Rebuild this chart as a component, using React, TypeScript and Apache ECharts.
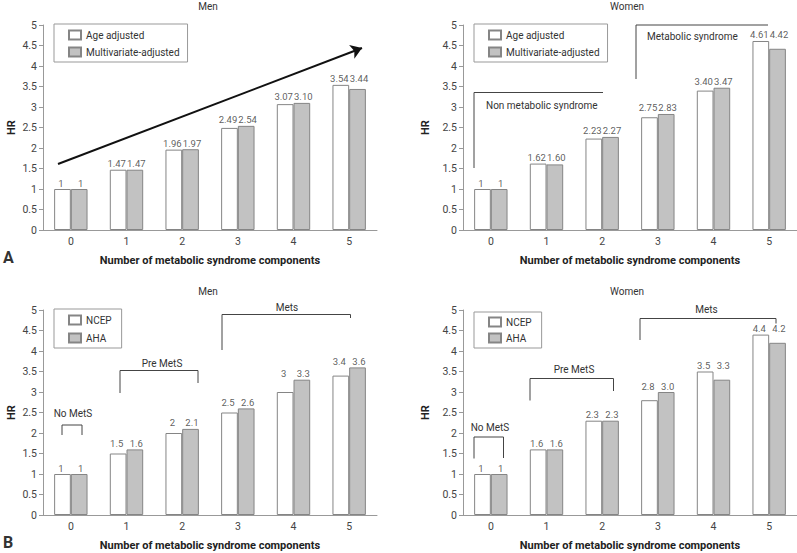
import React, { useEffect, useRef } from "react";
import * as echarts from "echarts";

const categories = ["0", "1", "2", "3", "4", "5"];

// Panel A — Men
const aMenAge = [1, 1.47, 1.96, 2.49, 3.07, 3.54];
const aMenMulti = [1, 1.47, 1.97, 2.54, 3.1, 3.44];
const aMenAgeLabels = ["1", "1.47", "1.96", "2.49", "3.07", "3.54"];
const aMenMultiLabels = ["1", "1.47", "1.97", "2.54", "3.10", "3.44"];

// Panel A — Women
const aWomenAge = [1, 1.62, 2.23, 2.75, 3.4, 4.61];
const aWomenMulti = [1, 1.6, 2.27, 2.83, 3.47, 4.42];
const aWomenAgeLabels = ["1", "1.62", "2.23", "2.75", "3.40", "4.61"];
const aWomenMultiLabels = ["1", "1.60", "2.27", "2.83", "3.47", "4.42"];

// Panel B — Men
const bMenNcep = [1, 1.5, 2, 2.5, 3, 3.4];
const bMenAha = [1, 1.6, 2.1, 2.6, 3.3, 3.6];
const bMenNcepLabels = ["1", "1.5", "2", "2.5", "3", "3.4"];
const bMenAhaLabels = ["1", "1.6", "2.1", "2.6", "3.3", "3.6"];

// Panel B — Women
const bWomenNcep = [1, 1.6, 2.3, 2.8, 3.5, 4.4];
const bWomenAha = [1, 1.6, 2.3, 3.0, 3.3, 4.2];
const bWomenNcepLabels = ["1", "1.6", "2.3", "2.8", "3.5", "4.4"];
const bWomenAhaLabels = ["1", "1.6", "2.3", "3.0", "3.3", "4.2"];

const legendA = ["Age adjusted", "Multivariate-adjusted"];
const legendB = ["NCEP", "AHA"];
const xName = "Number of metabolic syndrome components";
const yName = "HR";

const FONT = "Roboto, sans-serif";
const TXT = "#333";
const AX = "#999";
const FS = 10;

const grids = [
  { left: 43, top: 25, width: 334, height: 205 },
  { left: 463, top: 25, width: 334, height: 205 },
  { left: 43, top: 310, width: 334, height: 205 },
  { left: 463, top: 310, width: 334, height: 205 },
];

function makeAxes(i: number, yGap: number) {
  const x = {
    type: "category",
    gridIndex: i,
    data: categories,
    axisLine: { lineStyle: { color: AX, width: 1 } },
    axisTick: { inside: true, length: 4, lineStyle: { color: AX } },
    axisLabel: { color: "#444", fontSize: 10.5, fontFamily: FONT, margin: 6 },
    name: xName,
    nameLocation: "middle",
    nameGap: 25,
    nameTextStyle: { fontFamily: FONT, fontWeight: "bold", fontSize: 11, color: "#222" },
  };
  const y = {
    type: "value",
    gridIndex: i,
    min: 0,
    max: 5,
    interval: 0.5,
    splitLine: { show: false },
    axisLine: { show: true, lineStyle: { color: AX, width: 1 } },
    axisTick: { show: true, length: 4, lineStyle: { color: AX } },
    axisLabel: { color: "#444", fontSize: 10.5, fontFamily: FONT, margin: 6 },
    name: yName,
    nameLocation: "middle",
    nameRotate: 90,
    nameGap: yGap,
    nameTextStyle: { fontFamily: FONT, fontWeight: "bold", fontSize: 11, color: "#222" },
  };
  return { x, y };
}

function makeSeries(
  i: number,
  names: string[],
  a: number[],
  b: number[],
  la: string[],
  lb: string[],
  extraA: any = {}
) {
  const tops = a.map((v, k) => Math.max(v, b[k]));
  const labelBase = {
    show: true,
    position: "top",
    distance: 1,
    color: TXT,
    fontSize: 9.5,
    fontFamily: FONT,
  };
  return [
    {
      type: "bar",
      name: names[0],
      xAxisIndex: i,
      yAxisIndex: i,
      data: a,
      barGap: "0%",
      barCategoryGap: "40%",
      itemStyle: { color: "#ffffff", borderColor: "#858585", borderWidth: 1 },
      ...extraA,
    },
    {
      type: "bar",
      name: names[1],
      xAxisIndex: i,
      yAxisIndex: i,
      data: b,
      barGap: "0%",
      barCategoryGap: "40%",
      itemStyle: { color: "#c2c2c2", borderColor: "#858585", borderWidth: 1 },
    },
    {
      type: "scatter",
      xAxisIndex: i,
      yAxisIndex: i,
      data: tops,
      symbolSize: 0,
      itemStyle: { color: "transparent" },
      label: { ...labelBase, offset: [-9.8, 0], formatter: (p: any) => la[p.dataIndex] },
      silent: true,
    },
    {
      type: "scatter",
      xAxisIndex: i,
      yAxisIndex: i,
      data: tops,
      symbolSize: 0,
      itemStyle: { color: "transparent" },
      label: { ...labelBase, offset: [9.8, 0], formatter: (p: any) => lb[p.dataIndex] },
      silent: true,
    },
  ];
}

function legend(data: string[], left: number, top: number, gap: number, padding: number[]) {
  return {
    data,
    orient: "vertical",
    left,
    top,
    itemWidth: 12,
    itemHeight: 9,
    itemGap: gap,
    icon: "rect",
    padding,
    borderColor: "#999",
    borderWidth: 1,
    textStyle: { fontFamily: FONT, fontSize: FS, color: TXT, lineHeight: 12 },
    selectedMode: false,
  };
}

function txt(text: string, x: number, y: number, opts: any = {}) {
  return {
    type: "text",
    x,
    y,
    silent: true,
    style: {
      text,
      fill: TXT,
      fontFamily: FONT,
      fontSize: opts.size || FS,
      fontWeight: opts.weight || "normal",
      textAlign: opts.align || "center",
      textVerticalAlign: "middle",
    },
  };
}

function bracket(points: number[][]) {
  return {
    type: "polyline",
    silent: true,
    shape: { points },
    style: { stroke: "#444", lineWidth: 1, fill: null },
  };
}

export default function App() {
  const ref = useRef<HTMLDivElement>(null);
  useEffect(() => {
    const chart = echarts.init(ref.current!, null, { renderer: "svg" });
    const ax0 = makeAxes(0, 26);
    const ax1 = makeAxes(1, 32);
    const ax2 = makeAxes(2, 26);
    const ax3 = makeAxes(3, 32);
    const arrow = {
      markLine: {
        silent: true,
        symbol: ["none", "arrow"],
        symbolSize: 11,
        label: { show: false },
        lineStyle: { color: "#111", width: 2, type: "solid" },
        data: [[{ x: 58, y: 164 }, { x: 362, y: 48 }]],
      },
    };
    const option: any = {
      animation: false,
      backgroundColor: "#fff",
      textStyle: { fontFamily: FONT },
      grid: grids,
      xAxis: [ax0.x, ax1.x, ax2.x, ax3.x],
      yAxis: [ax0.y, ax1.y, ax2.y, ax3.y],
      legend: [
        legend(legendA, 54, 24, 5, [5, 8, 4, 14]),
        legend(legendA, 474, 24, 5, [5, 8, 4, 14]),
        legend(legendB, 54, 309, 6, [5, 10, 4, 14]),
        legend(legendB, 474, 312, 4, [4, 10, 4, 14]),
      ],
      series: [
        ...makeSeries(0, legendA, aMenAge, aMenMulti, aMenAgeLabels, aMenMultiLabels, arrow),
        ...makeSeries(1, legendA, aWomenAge, aWomenMulti, aWomenAgeLabels, aWomenMultiLabels),
        ...makeSeries(2, legendB, bMenNcep, bMenAha, bMenNcepLabels, bMenAhaLabels),
        ...makeSeries(3, legendB, bWomenNcep, bWomenAha, bWomenNcepLabels, bWomenAhaLabels),
      ],
      graphic: [
        txt("Men", 208, 6),
        txt("Women", 627, 6),
        txt("Men", 208, 291),
        txt("Women", 627, 291),
        txt("A", 3, 257, { size: 16, weight: "bold", align: "left" }),
        txt("B", 3, 542, { size: 16, weight: "bold", align: "left" }),
        // Panel A Women brackets
        bracket([[474, 168], [474, 92.5], [603, 92.5]]),
        txt("Non metabolic syndrome", 486, 105, { align: "left" }),
        bracket([[636, 79], [636, 25], [768, 25]]),
        txt("Metabolic syndrome", 647, 36, { align: "left" }),
        // Panel B Men brackets
        bracket([[62, 435], [62, 425], [82, 425], [82, 435]]),
        txt("No MetS", 73, 413),
        bracket([[120, 393], [120, 370.5], [198, 370.5], [198, 383]]),
        txt("Pre MetS", 162, 363),
        bracket([[222, 350], [222, 314.5], [350.5, 314.5], [350.5, 318]]),
        txt("Mets", 287, 307.5),
        // Panel B Women brackets
        bracket([[474, 458.5], [474, 437], [503.5, 437], [503.5, 458]]),
        txt("No MetS", 490, 427.5),
        bracket([[530, 400.5], [530, 378.5], [613.5, 378.5], [613.5, 391]]),
        txt("Pre MetS", 574, 369),
        bracket([[640, 340], [640, 318.5], [776, 318.5], [776, 323.5]]),
        txt("Mets", 706.5, 309),
      ],
    };
    chart.setOption(option);
    return () => chart.dispose();
  }, []);
  return (
    <div
      ref={ref}
      style={{ position: "absolute", left: 0, top: 0, width: 797, height: 553 }}
    />
  );
}
